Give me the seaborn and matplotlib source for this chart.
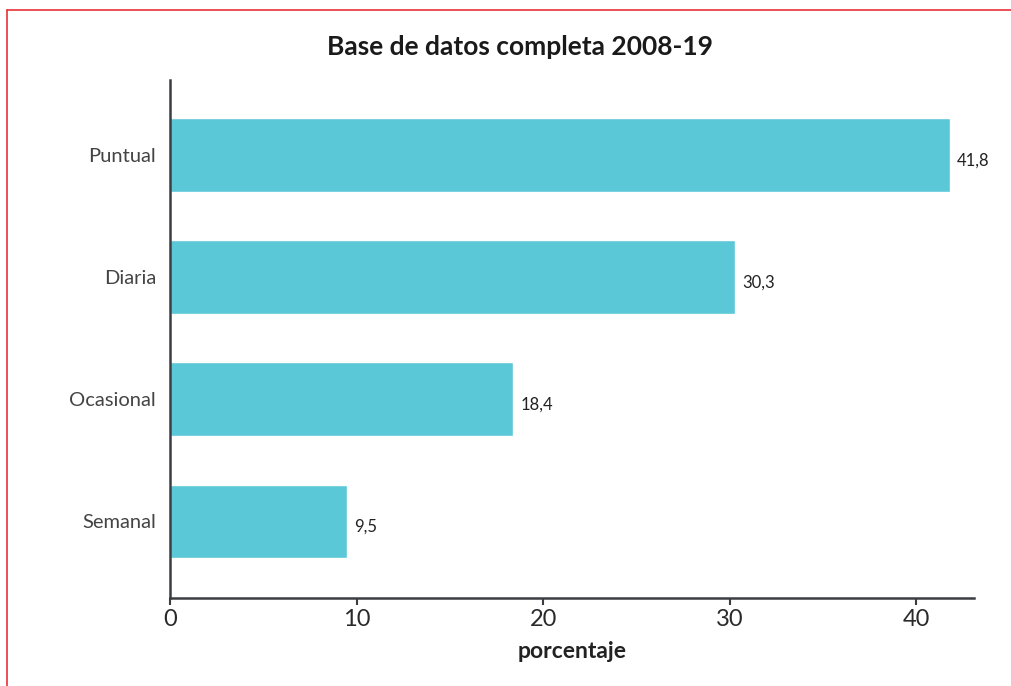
import matplotlib
matplotlib.use('Agg')
import matplotlib.pyplot as plt
from matplotlib.lines import Line2D
import pandas as pd
import seaborn as sns

categorias = ['Puntual', 'Diaria', 'Ocasional', 'Semanal']
porcentajes = [41.8, 30.3, 18.4, 9.5]
etiquetas = ['41,8', '30,3', '18,4', '9,5']
ticks_x = [0, 10, 20, 30, 40]

sns.set_theme(style='white')
plt.rcParams['font.family'] = ['Lato', 'DejaVu Sans']

df = pd.DataFrame({'Tipo': categorias, 'Porcentaje': porcentajes})

fig = plt.figure(figsize=(10.12, 6.86), dpi=100)
ax = fig.add_axes([0.168, 0.1283, 0.7945, 0.7551])

sns.barplot(data=df, y='Tipo', x='Porcentaje', color='#5bc8d7', saturation=1,
            width=0.6, ax=ax, order=categorias)

for i, (v, t) in enumerate(zip(porcentajes, etiquetas)):
    ax.annotate(t, (v, i), xytext=(5, -4), textcoords='offset points',
                ha='left', va='center', fontsize=12, color='#222222')

ax.set_xlim(0, 43.1)
ax.set_ylim(3.63, -0.615)
ax.set_xticks(ticks_x)
ax.set_xticklabels([str(t) for t in ticks_x], fontsize=17, color='#2a2a2a')
ax.set_yticklabels(categorias, fontsize=14.5, color='#444444')
ax.tick_params(axis='x', length=5, width=1.5, color='#3a3d42', pad=3, direction='out', bottom=True)
ax.tick_params(axis='y', length=0, pad=10)
ax.set_ylabel('')
ax.set_xlabel('porcentaje', fontsize=16.5, fontweight='bold', color='#222222', labelpad=8)
sns.despine(ax=ax)
for s in ['left', 'bottom']:
    ax.spines[s].set_color('#3a3d42')
    ax.spines[s].set_linewidth(1.8)

fig.text(0.514, 0.931, 'Base de datos completa 2008-19', ha='center', va='center',
         fontsize=19, fontweight='bold', color='#1a1a1a')

# marco rojo
fig.add_artist(Line2D([7/1012, 7/1012], [0, 1 - 10/686], color='#e8303a', lw=1.2))
fig.add_artist(Line2D([7/1012, 1], [1 - 10/686, 1 - 10/686], color='#e8303a', lw=1.2))

fig.savefig('out.png', dpi=100)
